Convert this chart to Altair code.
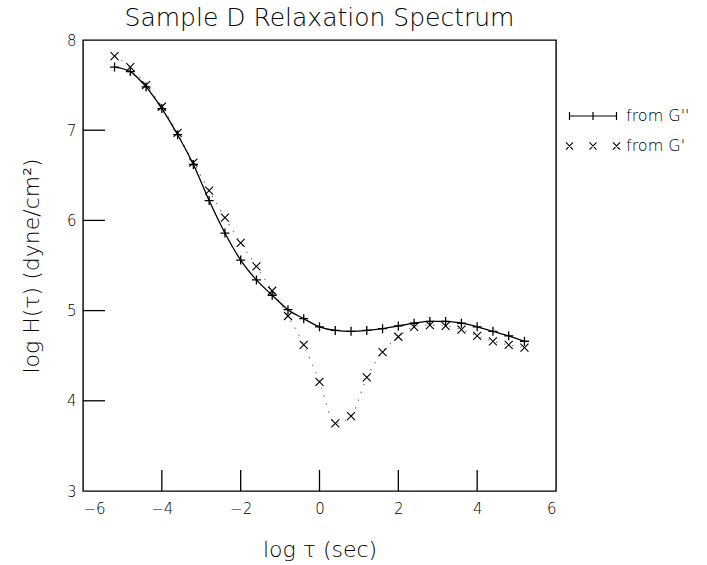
import altair as alt
import pandas as pd

# ---- data ----
log_tau = [-5.2, -4.8, -4.4, -4.0, -3.6, -3.2, -2.8, -2.4, -2.0, -1.6, -1.2, -0.8, -0.4,
           0.0, 0.4, 0.8, 1.2, 1.6, 2.0, 2.4, 2.8, 3.2, 3.6, 4.0, 4.4, 4.8, 5.2]
h_from_G2 = [7.70, 7.65, 7.48, 7.24, 6.95, 6.62, 6.22, 5.86, 5.56, 5.34, 5.17, 5.01, 4.91,
             4.82, 4.78, 4.77, 4.78, 4.80, 4.83, 4.86, 4.88, 4.88, 4.86, 4.82, 4.77, 4.72, 4.66]
h_from_G1 = [7.82, 7.70, 7.50, 7.26, 6.97, 6.64, 6.33, 6.03, 5.75, 5.49, 5.22, 4.94, 4.62,
             4.21, 3.75, 3.83, 4.26, 4.54, 4.71, 4.82, 4.84, 4.83, 4.79, 4.72, 4.66, 4.62, 4.59]
x_ticks = [-6, -4, -2, 0, 2, 4, 6]
y_ticks = [3, 4, 5, 6, 7, 8]
x_inner_ticks = [-4, -2, 0, 2, 4]
y_inner_ticks = [4, 5, 6, 7]
legend_labels = ["from G''", "from G'"]

FONT = "DejaVu Sans"
W, H = 473, 451

PLUS = "M-1,0L1,0M0,-1L0,1"
CROSS = "M-1,-1L1,1M-1,1L1,-1"
LEG_PLUS = ("M-1,0L1,0M-1,-0.17L-1,0.17M0,-0.17L0,0.17M1,-0.17L1,0.17")
LEG_CROSS = ("M-1.15,-0.15L-0.85,0.15M-1.15,0.15L-0.85,-0.15"
             "M-0.15,-0.15L0.15,0.15M-0.15,0.15L0.15,-0.15"
             "M0.85,-0.15L1.15,0.15M0.85,0.15L1.15,-0.15")

df2 = pd.DataFrame({"x": log_tau, "y": h_from_G2})
df1 = pd.DataFrame({"x": log_tau, "y": h_from_G1})

xs = alt.Scale(domain=[-6, 6], nice=False, zero=False)
ys = alt.Scale(domain=[3, 8], nice=False, zero=False)

xenc = alt.X("x:Q", scale=xs, axis=alt.Axis(
    values=x_ticks, format="d", title="log τ (sec)", grid=False, domain=False, ticks=False,
    labelFont=FONT, labelFontSize=15, labelColor="black", labelPadding=10,
    labelFontWeight=300,
    titleFont=FONT, titleFontSize=22, titleFontWeight=300, titleColor="black",
    titleX=W / 2, titleY=58, titleBaseline="middle", titleAlign="center"))
yenc = alt.Y("y:Q", scale=ys, axis=alt.Axis(
    values=y_ticks, format="d", title="log H(τ) (dyne/cm²)", grid=False, domain=False, ticks=False,
    labelFont=FONT, labelFontSize=15, labelColor="black", labelPadding=7,
    labelFontWeight=300,
    titleFont=FONT, titleFontSize=22, titleFontWeight=300, titleColor="black",
    titleX=-52, titleY=H / 2, titleAngle=270, titleBaseline="middle", titleAlign="center"))

line2 = alt.Chart(df2).mark_line(color="black", strokeWidth=1.3, interpolate="monotone").encode(x=xenc, y=yenc)
pts2 = alt.Chart(df2).mark_point(shape=PLUS, size=81, filled=False, color="black",
                                 strokeWidth=1.3, opacity=1).encode(x="x:Q", y="y:Q")
line1 = alt.Chart(df1).mark_line(color="#666666", strokeWidth=1.2, strokeDash=[1.2, 7],
                                 interpolate="monotone").encode(x="x:Q", y="y:Q")
pts1 = alt.Chart(df1).mark_point(shape=CROSS, size=64, filled=False, color="black",
                                 strokeWidth=1.1, opacity=1).encode(x="x:Q", y="y:Q")

xt = alt.Chart(pd.DataFrame({"t": x_inner_ticks})).mark_rule(color="black", strokeWidth=1.3).encode(
    x="t:Q", y=alt.value(H), y2=alt.value(H - 21))
yt = alt.Chart(pd.DataFrame({"t": y_inner_ticks})).mark_rule(color="black", strokeWidth=1.3).encode(
    y="t:Q", x=alt.value(0), x2=alt.value(22))

leg_df = pd.DataFrame({"label": legend_labels})
leg_sym1 = alt.Chart(leg_df.iloc[[0]]).mark_point(shape=LEG_PLUS, size=47 * 47, filled=False,
                                                  color="black", strokeWidth=1.2, opacity=1).encode(
    x=alt.value(510), y=alt.value(76))
leg_sym2 = alt.Chart(leg_df.iloc[[1]]).mark_point(shape=LEG_CROSS, size=47 * 47, filled=False,
                                                  color="black", strokeWidth=1.1, opacity=1).encode(
    x=alt.value(510), y=alt.value(106))
leg_txt1 = alt.Chart(leg_df.iloc[[0]]).mark_text(align="left", baseline="middle", font=FONT,
                                                 fontSize=16, fontWeight=300, color="black").encode(
    x=alt.value(543), y=alt.value(76), text="label:N")
leg_txt2 = alt.Chart(leg_df.iloc[[1]]).mark_text(align="left", baseline="middle", font=FONT,
                                                 fontSize=16, fontWeight=300, color="black").encode(
    x=alt.value(543), y=alt.value(106), text="label:N")

chart = alt.layer(line1, line2, pts1, pts2, xt, yt, leg_sym1, leg_sym2, leg_txt1, leg_txt2).properties(
    width=W, height=H,
    background="white",
    title=alt.TitleParams("Sample D Relaxation Spectrum", font=FONT, fontSize=25, fontWeight=300,
                          color="black", anchor="middle", offset=2),
    autosize=alt.AutoSizeParams(type="none"),
    padding={"left": 83, "top": 40, "right": 151, "bottom": 74},
).configure_view(stroke="black", strokeWidth=1.4)

chart.save("out.html", embed_options={"renderer": "svg", "actions": False})
